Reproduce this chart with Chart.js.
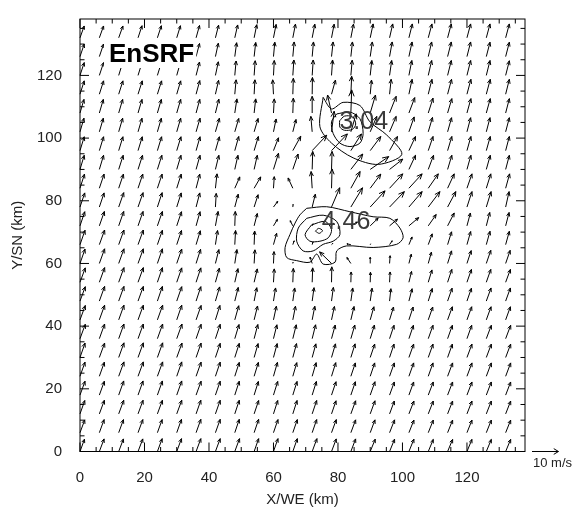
<!DOCTYPE html>
<html>
<head>
<meta charset="utf-8">
<script src="https://cdn.jsdelivr.net/npm/chart.js@4.4.1/dist/chart.umd.min.js"></script>
<style>
  html, body { margin: 0; padding: 0; background: #fff; }
  canvas { display: block; }
</style>
</head>
<body>
<canvas id="wind_chart" width="581" height="514"></canvas>
<script>
// grid points (km) -- every second point of the analysis grid
var gridX = [0, 6, 12, 18, 24, 30, 36, 42, 48, 54, 60, 66, 72, 78, 84, 90, 96, 102, 108, 114, 120, 126, 132];
var gridY = [0, 6, 12, 18, 24, 30, 36, 42, 48, 54, 60, 66, 72, 78, 84, 90, 96, 102, 108, 114, 120, 126, 132];

// wind components (m/s), one row per gridY, bottom row first
var windU = [
  [1.7,1.8,1.8,1.8,1.8,1.8,1.8,1.8,1.8,1.7,1.7,1.7,1.8,1.8,1.8,1.9,1.9,1.9,1.9,1.9,1.9,1.9,1.9],
  [1.8,1.8,1.8,1.8,1.8,1.8,1.8,1.8,1.7,1.7,1.7,1.7,1.7,1.8,1.8,1.8,1.9,1.9,1.9,1.9,1.9,1.9,1.9],
  [1.8,1.9,1.9,1.9,1.9,1.9,1.8,1.8,1.7,1.7,1.6,1.6,1.7,1.7,1.8,1.8,1.8,1.9,1.9,1.9,1.9,1.9,1.9],
  [1.9,1.9,1.9,1.9,1.9,1.9,1.9,1.8,1.7,1.6,1.6,1.6,1.6,1.7,1.7,1.8,1.8,1.8,1.9,1.9,1.9,1.9,1.9],
  [1.9,1.9,2.0,2.0,2.0,1.9,1.9,1.8,1.7,1.6,1.5,1.5,1.5,1.6,1.7,1.7,1.8,1.8,1.8,1.9,1.9,1.9,1.9],
  [1.9,2.0,2.0,2.0,2.0,2.0,1.9,1.8,1.7,1.5,1.4,1.4,1.4,1.5,1.6,1.7,1.7,1.8,1.8,1.8,1.9,1.9,1.9],
  [2.0,2.0,2.0,2.0,2.0,2.0,1.9,1.8,1.6,1.4,1.3,1.3,1.3,1.4,1.5,1.6,1.7,1.7,1.8,1.8,1.8,1.9,1.9],
  [2.0,2.0,2.0,2.0,2.0,1.9,1.9,1.7,1.5,1.3,1.1,1.0,1.0,1.1,1.2,1.4,1.5,1.6,1.7,1.8,1.8,1.8,1.8],
  [2.0,2.0,2.0,2.0,1.9,1.9,1.8,1.6,1.3,1.0,0.8,0.7,0.7,0.7,0.7,0.7,0.5,1.2,1.5,1.7,1.7,1.8,1.8],
  [2.0,2.0,2.0,2.0,1.9,1.9,1.8,1.5,1.2,1.2,0.3,0.2,0.2,0.1,0.1,0.1,0.2,1.0,1.4,1.6,1.7,1.7,1.8],
  [1.9,2.0,2.0,2.0,1.9,1.9,1.7,1.3,0.8,0.3,0.2,0.1,-0.8,-4.5,-1.5,0.0,0.2,0.9,1.2,1.5,1.6,1.7,1.7],
  [1.9,2.0,2.0,2.0,1.9,1.8,1.6,0.8,0.3,0.2,1.2,0.5,0.3,0.5,-1.5,0.2,1.0,1.2,1.5,1.5,1.4,1.4,1.4],
  [1.8,1.9,1.9,1.9,1.9,1.8,1.5,1.0,0.2,1.2,1.5,-1.0,0.3,0.8,2.5,3.0,3.0,3.7,3.0,2.5,1.3,1.3,1.3],
  [1.8,1.8,1.9,1.9,1.8,1.7,1.4,0.3,1.3,1.5,1.6,0.1,1.2,3.1,4.4,5.6,5.6,5.0,4.4,3.1,1.9,1.8,1.3],
  [1.7,1.8,1.8,1.8,1.8,1.7,1.4,0.6,1.9,2.5,0.3,-1.8,-0.4,0.2,3.5,4.0,5.0,5.0,3.8,2.5,1.9,1.7,1.5],
  [1.6,1.6,1.7,1.7,1.7,1.6,1.5,1.3,1.2,1.2,1.9,2.0,0.2,0.2,4.5,7.0,5.0,2.5,2.0,1.6,1.5,1.5,1.4],
  [1.6,1.6,1.6,1.6,1.6,1.6,1.5,1.5,1.5,1.6,1.9,3.0,5.5,6.0,4.0,4.0,3.0,2.5,1.8,1.6,1.5,1.5,1.4],
  [1.5,1.5,1.5,1.5,1.5,1.5,1.5,1.5,1.5,1.5,1.0,1.2,-0.5,1.0,2.0,2.5,2.5,2.0,1.6,1.5,1.4,1.4,1.4],
  [1.5,1.5,1.5,1.5,1.5,1.5,1.4,1.3,0.8,0.6,0.3,0.2,0.0,-1.5,0.3,2.0,2.5,2.2,1.8,1.6,1.5,1.5,1.4],
  [1.6,1.6,1.6,1.6,1.6,1.5,1.4,1.2,0.5,0.3,-0.3,0.2,0.1,1.5,0.3,0.5,0.6,1.2,1.4,1.5,1.5,1.5,1.4],
  [1.6,1.6,1.5,1.5,1.5,1.4,1.3,1.1,0.5,0.4,0.3,0.4,0.4,0.4,0.5,0.6,0.8,1.1,1.3,1.4,1.4,1.4,1.4],
  [1.6,1.6,1.5,1.5,1.5,1.4,1.3,1.1,0.7,0.6,0.5,0.5,0.5,0.6,0.6,0.8,1.0,1.2,1.3,1.4,1.4,1.4,1.4],
  [1.6,1.6,1.6,1.5,1.5,1.4,1.3,1.2,1.1,1.0,1.0,1.0,1.0,1.0,1.0,1.1,1.2,1.3,1.4,1.4,1.4,1.4,1.4]
];
var windV = [
  [4.8,4.9,4.9,4.9,5.0,5.0,5.0,5.0,5.0,5.0,5.0,5.0,5.0,4.9,4.9,4.8,4.8,4.8,4.7,4.7,4.7,4.7,4.7],
  [5.0,5.1,5.1,5.1,5.1,5.2,5.2,5.2,5.2,5.2,5.1,5.1,5.1,5.1,5.0,5.0,5.0,4.9,4.9,4.9,4.9,4.9,4.9],
  [5.2,5.3,5.3,5.3,5.3,5.3,5.3,5.3,5.3,5.2,5.2,5.2,5.2,5.1,5.1,5.1,5.0,5.0,5.0,5.0,5.0,5.0,5.0],
  [5.4,5.4,5.5,5.5,5.5,5.5,5.4,5.4,5.4,5.3,5.3,5.3,5.3,5.2,5.2,5.2,5.1,5.1,5.1,5.1,5.1,5.1,5.1],
  [5.5,5.5,5.6,5.6,5.6,5.6,5.5,5.5,5.4,5.4,5.4,5.3,5.3,5.3,5.2,5.2,5.2,5.2,5.2,5.2,5.2,5.2,5.2],
  [5.6,5.6,5.7,5.7,5.7,5.6,5.6,5.5,5.5,5.4,5.4,5.4,5.3,5.3,5.3,5.2,5.2,5.2,5.2,5.2,5.2,5.2,5.2],
  [5.6,5.7,5.7,5.7,5.7,5.7,5.6,5.6,5.5,5.5,5.4,5.4,5.4,5.3,5.3,5.3,5.2,5.2,5.2,5.2,5.2,5.2,5.2],
  [5.6,5.7,5.7,5.7,5.7,5.7,5.6,5.6,5.5,5.4,5.3,5.3,5.3,5.2,5.2,5.1,5.0,5.0,5.0,5.1,5.1,5.1,5.1],
  [5.6,5.7,5.7,5.7,5.7,5.6,5.6,5.5,5.3,5.2,5.1,5.1,5.2,5.3,5.1,5.0,4.8,4.8,4.9,5.0,5.0,5.1,5.1],
  [5.6,5.7,5.7,5.7,5.7,5.6,5.6,5.5,5.3,5.2,5.2,5.4,5.6,6.0,4.0,3.9,4.0,4.2,4.8,5.0,5.0,5.0,5.0],
  [5.6,5.7,5.7,5.7,5.7,5.6,5.5,5.4,5.4,5.3,4.6,0.5,2.5,4.5,2.3,2.4,3.0,3.6,4.4,4.9,5.0,5.1,5.1],
  [5.6,5.7,5.7,5.7,5.6,5.5,5.4,5.5,5.5,5.3,4.4,1.5,1.0,0.5,0.3,0.3,1.5,3.0,4.2,5.0,5.1,5.2,5.2],
  [5.5,5.6,5.6,5.6,5.6,5.5,5.5,5.6,5.6,4.8,2.5,2.0,0.8,1.0,1.5,3.0,2.6,3.2,4.4,5.0,5.0,5.2,5.2],
  [5.5,5.5,5.6,5.6,5.6,5.5,5.5,5.3,5.0,4.8,2.2,1.0,5.0,7.5,7.5,6.3,6.0,6.0,6.0,6.0,6.0,6.0,6.0],
  [5.5,5.5,5.5,5.5,5.5,5.5,5.5,5.6,4.4,4.4,4.5,4.0,6.5,7.5,6.5,5.5,5.6,5.6,5.6,5.6,5.6,5.6,5.6],
  [5.5,5.5,5.5,5.5,5.5,5.5,5.5,5.5,5.5,5.5,6.3,6.0,7.0,7.0,6.0,5.0,4.0,5.5,5.5,5.5,5.5,5.5,5.5],
  [5.4,5.4,5.4,5.4,5.4,5.4,5.4,5.4,5.5,5.5,5.0,5.6,6.0,6.5,6.5,5.5,5.5,5.5,5.5,5.5,5.5,5.5,5.5],
  [5.3,5.3,5.3,5.3,5.3,5.3,5.3,5.3,5.2,5.2,5.0,4.8,6.0,8.0,7.0,6.0,6.0,5.8,5.6,5.5,5.5,5.5,5.5],
  [5.3,5.3,5.3,5.3,5.3,5.3,5.3,5.4,5.5,5.5,5.5,5.8,6.5,7.0,9.0,7.0,6.5,6.0,5.8,5.6,5.6,5.6,5.6],
  [5.2,5.2,5.2,5.2,5.2,5.2,5.3,5.4,5.6,5.6,5.6,6.2,6.5,5.5,7.0,5.5,5.8,5.8,5.8,5.8,5.8,5.8,5.8],
  [5.0,5.0,5.0,5.0,5.0,5.1,5.2,5.3,5.6,5.7,5.8,6.0,6.0,6.0,5.9,5.8,5.8,5.8,5.8,5.8,5.8,5.8,5.7],
  [4.9,4.9,4.9,4.9,4.9,5.0,5.1,5.2,5.4,5.5,5.6,5.7,5.7,5.7,5.7,5.7,5.7,5.7,5.7,5.7,5.7,5.6,5.6],
  [4.6,4.6,4.6,4.7,4.7,4.7,4.8,4.9,5.0,5.1,5.2,5.3,5.3,5.3,5.3,5.4,5.4,5.4,5.4,5.4,5.4,5.4,5.4]
];

// contour lines (x km, y km)
var contourNorthOuter = [[75.4,113.0],[74.4,103.6],[78.0,98.4],[84.7,93.7],[92.5,91.6],[99.8,94.8],[95.1,101.0],[89.9,105.2],[86.8,110.4],[81.6,111.4],[78.0,109.3],[75.4,113.0]];
var contourNorthMid = [[79.6,107.7],[83.7,108.3],[86.8,106.2],[87.8,101.5],[86.8,98.4],[83.7,97.3],[80.6,98.4],[78.5,101.5],[78.0,105.2],[79.6,107.7]];
var contourNorthIn = [[80.5,105.5],[82.0,107.0],[84.5,106.8],[85.5,104.5],[84.5,102.8],[82.0,102.5],[80.6,103.5],[80.5,105.5]];
var contourSouthOuter = [[70.3,77.6],[76.5,78.1],[83.7,76.5],[90.9,74.9],[96.1,74.4],[99.2,71.3],[100.2,68.2],[98.2,66.1],[90.9,65.1],[82.7,65.6],[79.6,64.0],[79.1,60.4],[75.4,59.8],[73.4,63.0],[71.3,60.4],[67.2,60.9],[64.1,61.9],[63.6,65.1],[65.1,69.2],[66.7,72.9],[68.2,75.5],[70.3,77.6]];
var contourSouthMid = [[70.3,74.4],[75.4,75.4],[79.6,73.4],[80.6,69.2],[78.5,67.1],[75.4,66.1],[72.3,64.0],[69.2,64.0],[67.2,67.1],[67.7,71.3],[70.3,74.4]];
var contourSouthIn = [[71.8,72.3],[76.0,73.4],[78.0,70.8],[77.0,68.2],[74.4,67.1],[71.3,67.1],[69.8,69.2],[71.8,72.3]];
var contourSouthCore = [[73.0,70.3],[74.0,71.2],[75.2,70.5],[74.2,69.6],[73.0,70.3]];

// maximum labels
var maxLabels = ['3.04', '4.46'];
var maxLabelX = [88.0, 82.5];
var maxLabelY = [105.2, 73.3];

var xTicks = [0, 20, 40, 60, 80, 100, 120];
var yTicks = [0, 20, 40, 60, 80, 100, 120];
var refSpeed = 10;

var kmPerMs = 0.82;   // arrow length in km for 1 m/s
var fontFam = '"Liberation Sans", Arial, Helvetica, sans-serif';

// shaft plus two barbs; head is a fraction of the shaft, or a fixed size if given
this.drawArrow = function(ctx, x0, y0, x1, y1, fixedHead){
    var dx = x1 - x0, dy = y1 - y0;
    var len = Math.sqrt(dx * dx + dy * dy);
    if(len < 0.3) return;
    var ang = Math.atan2(dy, dx);
    var head = fixedHead ? fixedHead : len * 0.3;
    var spread = fixedHead ? 0.55 : 0.4;
    ctx.beginPath();
    ctx.moveTo(x0, y0);
    ctx.lineTo(x1, y1);
    ctx.moveTo(x1 - head * Math.cos(ang - spread), y1 - head * Math.sin(ang - spread));
    ctx.lineTo(x1, y1);
    ctx.lineTo(x1 - head * Math.cos(ang + spread), y1 - head * Math.sin(ang + spread));
    ctx.stroke();
}

var quiverPlugin = {
    id: 'quiver',
    afterDatasetsDraw: function(chart){
        var ctx = chart.ctx;
        var xs = chart.scales.x, ys = chart.scales.y;
        var area = chart.chartArea;
        ctx.save();
        ctx.strokeStyle = '#000';
        ctx.lineWidth = 1;

        // wind vectors, tail at the grid point
        $each(gridY, function(j, yv){
            $each(gridX, function(i, xv){
                drawArrow(ctx,
                    xs.getPixelForValue(xv), ys.getPixelForValue(yv),
                    xs.getPixelForValue(xv + windU[j][i] * kmPerMs),
                    ys.getPixelForValue(yv + windV[j][i] * kmPerMs));
            });
        });

        // frame
        ctx.strokeRect(area.left, area.top, area.right - area.left, area.bottom - area.top);

        // inward ticks, major and minor (every 5 km)
        var v, px, big;
        for(v = 0; v <= xs.max; v += 5){
            px = xs.getPixelForValue(v);
            big = xTicks.indexOf(v) >= 0 ? 9 : 4.5;
            ctx.beginPath();
            ctx.moveTo(px, area.bottom); ctx.lineTo(px, area.bottom - big);
            ctx.moveTo(px, area.top); ctx.lineTo(px, area.top + big);
            ctx.stroke();
        }
        for(v = 0; v <= ys.max; v += 5){
            px = ys.getPixelForValue(v);
            big = yTicks.indexOf(v) >= 0 ? 9 : 4.5;
            ctx.beginPath();
            ctx.moveTo(area.left, px); ctx.lineTo(area.left + big, px);
            ctx.moveTo(area.right, px); ctx.lineTo(area.right - big, px);
            ctx.stroke();
        }

        // maxima of the contoured field
        ctx.fillStyle = '#3a3a3a';
        ctx.font = '25px ' + fontFam;
        ctx.textAlign = 'center';
        ctx.textBaseline = 'middle';
        $each(maxLabels, function(k, txt){
            ctx.fillText(txt, xs.getPixelForValue(maxLabelX[k]), ys.getPixelForValue(maxLabelY[k]));
        });

        // experiment name on a white box
        ctx.font = 'bold 26px ' + fontFam;
        ctx.textAlign = 'left';
        ctx.textBaseline = 'alphabetic';
        var tx = area.left + 29, ty = area.top + 43;
        var tw = ctx.measureText('EnSRF').width;
        ctx.fillStyle = '#fff';
        ctx.fillRect(tx - 5, ty - 21, tw + 7, 27);
        ctx.fillStyle = '#000';
        ctx.fillText('EnSRF', tx, ty);

        // reference vector
        var refLen = xs.getPixelForValue(refSpeed * kmPerMs) - xs.getPixelForValue(0);
        var rx = area.right + 7;
        drawArrow(ctx, rx, area.bottom, rx + refLen, area.bottom, 5.5);
        ctx.font = '13px ' + fontFam;
        ctx.textBaseline = 'middle';
        ctx.fillStyle = '#222';
        ctx.fillText(refSpeed + ' m/s', rx + 1, area.bottom + 12);
        ctx.restore();
    }
};

function $each(arr, fn){
    for(var k = 0; k < arr.length; k++) fn(k, arr[k]);
}

var contours = [contourNorthOuter, contourNorthMid, contourNorthIn,
    contourSouthOuter, contourSouthMid, contourSouthIn, contourSouthCore];
var contour_sets = [];
$each(contours, function(k, c){
    contour_sets.push({
        data: c.map(function(p){ return {x: p[0], y: p[1]}; }),
        showLine: true,
        borderColor: '#000',
        borderWidth: 1,
        pointRadius: 0,
        tension: 0.3,
        fill: false
    });
});

var tickFont = {family: fontFam, size: 15};
var wind_chart = new Chart(document.getElementById('wind_chart').getContext('2d'), {
    type: 'scatter',
    data: { datasets: contour_sets },
    options: {
        responsive: false,
        animation: false,
        layout: { padding: { top: 9, right: 56, bottom: 0, left: 0 } },
        plugins: { legend: { display: false }, tooltip: { enabled: false } },
        scales: {
            x: {
                type: 'linear', min: 0, max: 138,
                grid: { display: false },
                border: { display: false },
                afterBuildTicks: function(s){ s.ticks = xTicks.map(function(v){ return {value: v}; }); },
                afterFit: function(s){ s.height = 62.5; },
                ticks: { padding: 9, color: '#222', font: tickFont, maxRotation: 0, autoSkip: false },
                title: { display: true, text: 'X/WE (km)', color: '#222', font: tickFont, padding: { top: 0, bottom: 5 } }
            },
            y: {
                type: 'linear', min: 0, max: 138,
                grid: { display: false },
                border: { display: false },
                afterBuildTicks: function(s){ s.ticks = yTicks.map(function(v){ return {value: v}; }); },
                afterFit: function(s){ s.width = 80; },
                ticks: { padding: 10, color: '#222', font: tickFont, autoSkip: false },
                title: { display: true, text: 'Y/SN (km)', color: '#222', font: tickFont, padding: { top: 9, bottom: 0 } }
            }
        }
    },
    plugins: [quiverPlugin]
});
</script>
</body>
</html>
